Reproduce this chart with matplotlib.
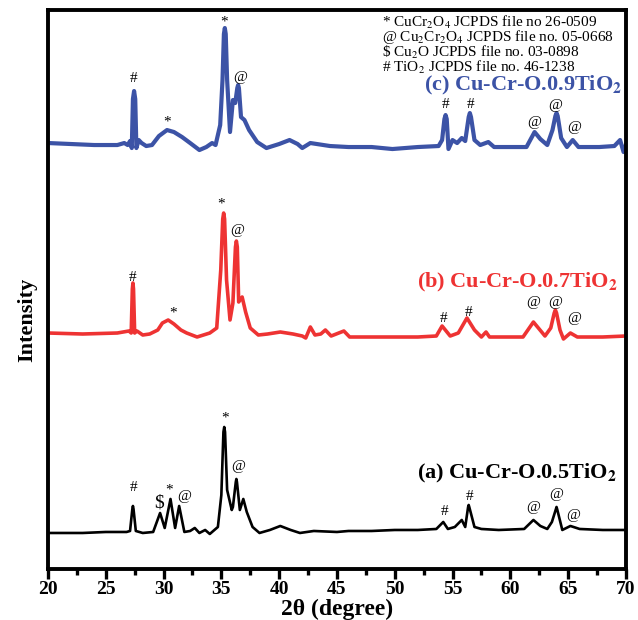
import matplotlib
matplotlib.use("Agg")
import matplotlib.pyplot as plt
from matplotlib.ticker import MultipleLocator

plt.rcParams["font.family"] = ["Liberation Serif", "DejaVu Serif"]
plt.rcParams["mathtext.fontset"] = "stix"

# XRD patterns (2theta in degrees, intensity in a.u., offset stacked)
tt_c = [20, 22, 24, 26, 26.6, 26.9, 27.1, 27.25, 27.35, 27.45, 27.55, 27.65, 27.85, 28.1, 28.5,
        29.0, 29.6, 30.3, 30.9, 31.6, 32.3, 33.1, 33.7, 34.2, 34.5, 34.9, 35.1, 35.22, 35.3,
        35.38, 35.5, 35.75, 36.0, 36.2, 36.38, 36.45, 36.52, 36.7, 37.0, 37.4, 38.1, 38.9, 40.0,
        40.9, 41.6, 42.0, 42.7, 44.4, 46, 48, 49.8, 52, 53.8, 54.1, 54.3, 54.4, 54.5, 54.65, 55.0,
        55.4, 55.8, 56.1, 56.4, 56.5, 56.6, 56.9, 57.4, 58.1, 58.6, 60, 61.4, 62.1, 62.6, 63.2,
        63.65, 63.9, 64.0, 64.1, 64.4, 64.9, 65.4, 65.9, 67.7, 69.0, 69.5, 69.8, 70]
int_c = [426, 425, 424, 424, 426, 424, 428, 421, 470, 478, 470, 421, 429, 426, 423,
         424, 433, 439, 437, 432, 426, 419, 422, 426, 424, 444, 489, 535, 541,
         535, 489, 437, 469, 466, 481, 484, 481, 452, 449, 439, 427, 421, 425,
         429, 425, 421, 426, 423, 422, 422, 420, 422, 423, 429, 450, 454, 450, 420, 429,
         426, 431, 428, 452, 456, 452, 429, 424, 427, 422, 422, 422, 437, 430, 424,
         439, 453, 456, 453, 431, 422, 429, 422, 422, 423, 429, 417, 424]

tt_b = [20, 23, 26, 27.0, 27.2, 27.3, 27.35, 27.4, 27.5, 27.7, 28.2, 28.8, 29.5, 29.9, 30.4,
        30.9, 31.5, 32.0, 32.9, 34.0, 34.6, 34.95, 35.12, 35.2, 35.28, 35.45, 35.75, 36.0,
        36.22, 36.3, 36.38, 36.5, 36.8, 37.1, 37.5, 38.2, 39.0, 40.1, 41.2, 42.0, 42.3, 42.7,
        43.1, 43.6, 44.0, 44.5, 45.6, 46.1, 48, 50, 52, 53.6, 54.1, 54.8, 55.5, 56.25, 56.9,
        57.5, 57.9, 58.2, 59.5, 61.1, 62.0, 63.0, 63.5, 63.8, 63.9, 64.0, 64.3, 64.6, 65.2,
        65.8, 66.3, 68, 70]
int_b = [236, 235, 236, 238, 236, 280, 286, 280, 236, 238, 234, 235, 239, 246, 249,
         245, 239, 236, 232, 236, 241, 299, 350, 356, 350, 289, 249, 266,
         322, 328, 322, 267, 272, 257, 241, 234, 235, 237, 235, 233, 231, 242,
         234, 235, 239, 233, 238, 232, 232, 232, 232, 233, 243, 233, 236, 251, 239,
         232, 237, 232, 232, 232, 247, 233, 241, 256, 259, 256, 239, 230, 236,
         232, 232, 232, 233]

tt_a = [20, 23, 25, 26.8, 27.1, 27.3, 27.35, 27.4, 27.6, 28.2, 29.1, 29.7, 30.1, 30.6, 31.0,
        31.35, 31.8, 32.3, 32.7, 33.1, 33.6, 34.0, 34.7, 35.0, 35.18, 35.25, 35.32, 35.5, 35.9,
        36.0, 36.25, 36.3, 36.35, 36.6, 36.9, 37.2, 37.7, 38.3, 39.2, 40.1, 41.0, 41.8, 43, 45,
        46, 48, 50, 52, 53.6, 54.2, 54.6, 55.2, 55.8, 56.1, 56.35, 56.4, 56.45, 56.9, 57.5, 59,
        61.2, 62.0, 62.6, 63.2, 63.6, 63.95, 64.0, 64.05, 64.5, 65.2, 66.0, 68, 70]
int_a = [36, 36, 37, 37, 38, 60, 63, 60, 38, 36, 37, 56, 41, 70, 41,
         63, 37, 38, 41, 36, 39, 35, 42, 74, 137, 142, 137, 79, 59,
         62, 87, 90, 87, 59, 70, 57, 42, 36, 39, 43, 39, 36, 38, 37,
         38, 38, 39, 39, 40, 47, 40, 42, 49, 42, 62, 64, 62, 42, 40, 39,
         40, 49, 43, 40, 47, 60, 62, 60, 39, 43, 40, 39, 39]

# phase markers: (2theta, height, symbol)
marks_c = [(27.4, 491, "#"), (30.3, 447, "*"), (35.2, 547, "*"), (36.6, 492, "@"),
           (54.4, 465, "#"), (56.6, 465, "#"), (62.1, 447, "@"), (63.9, 464, "@"), (65.5, 442, "@")]
marks_b = [(27.3, 292, "#"), (30.8, 256, "*"), (35.0, 365, "*"), (36.4, 339, "@"),
           (54.2, 251, "#"), (56.4, 257, "#"), (62.0, 267, "@"), (63.9, 267, "@"), (65.5, 251, "@")]
marks_a = [(27.4, 81, "#"), (29.6, 66, "$"), (30.5, 79, "*"), (31.8, 72, "@"), (35.3, 151, "*"),
           (36.5, 102, "@"), (54.3, 57, "#"), (56.5, 72, "#"), (62.0, 61, "@"), (64.0, 74, "@"),
           (65.4, 53, "@")]

legend_lines = [
    r"* CuCr$_2$O$_4$ JCPDS file no 26-0509",
    r"@ Cu$_2$Cr$_2$O$_4$ JCPDS file no. 05-0668",
    r"\$ Cu$_2$O JCPDS file no. 03-0898",
    r"# TiO$_2$ JCPDS file no. 46-1238",
]

series = [
    (tt_c, int_c, marks_c, "#3c53a6", 3.0, r"(c) Cu-Cr-O.0.9TiO$_\mathbf{2}$", 69.7, 484),
    (tt_b, int_b, marks_b, "#ee3333", 2.6, r"(b) Cu-Cr-O.0.7TiO$_\mathbf{2}$", 69.3, 287),
    (tt_a, int_a, marks_a, "black", 1.9, r"(a) Cu-Cr-O.0.5TiO$_\mathbf{2}$", 69.2, 96),
]

fig = plt.figure(figsize=(6.38, 6.2), dpi=100)
ax = fig.add_axes([0.0752, 0.0823, 0.9058, 0.9015])

for tt, inten, marks, color, lw, label, label_x, label_y in series:
    ax.plot(tt, inten, color=color, lw=lw, solid_joinstyle="round")
    for x, y, s in marks:
        fs = 14 if s == "$" else 11
        ax.text(x, y, "\\$" if s == "$" else s, ha="center", va="center",
                fontsize=fs, color="black")
    ax.text(label_x, label_y, label, ha="right", va="center", fontsize=16,
            fontweight="bold", color=color)

for i, line in enumerate(legend_lines):
    ax.text(48.9, 547 - i * 15, line, ha="left", va="center", fontsize=11)

ax.set_xlim(20, 70)
ax.set_ylim(0, 559)
ax.set_yticks([])
ax.xaxis.set_major_locator(MultipleLocator(5))
ax.xaxis.set_minor_locator(MultipleLocator(2.5))
ax.tick_params(axis="x", which="major", direction="out", length=7, width=2.4,
               labelsize=14, pad=2)
ax.tick_params(axis="x", which="minor", direction="out", length=4, width=2.4)
for lab in ax.get_xticklabels():
    lab.set_fontweight("bold")
for sp in ax.spines.values():
    sp.set_linewidth(2.8)

ax.set_xlabel("2θ (degree)", fontsize=17, fontweight="bold", labelpad=0)
fig.text(0.042, 0.484, "Intensity", rotation=90, ha="center", va="center",
         fontsize=16, fontweight="bold")

fig.savefig("out.png", dpi=100)
